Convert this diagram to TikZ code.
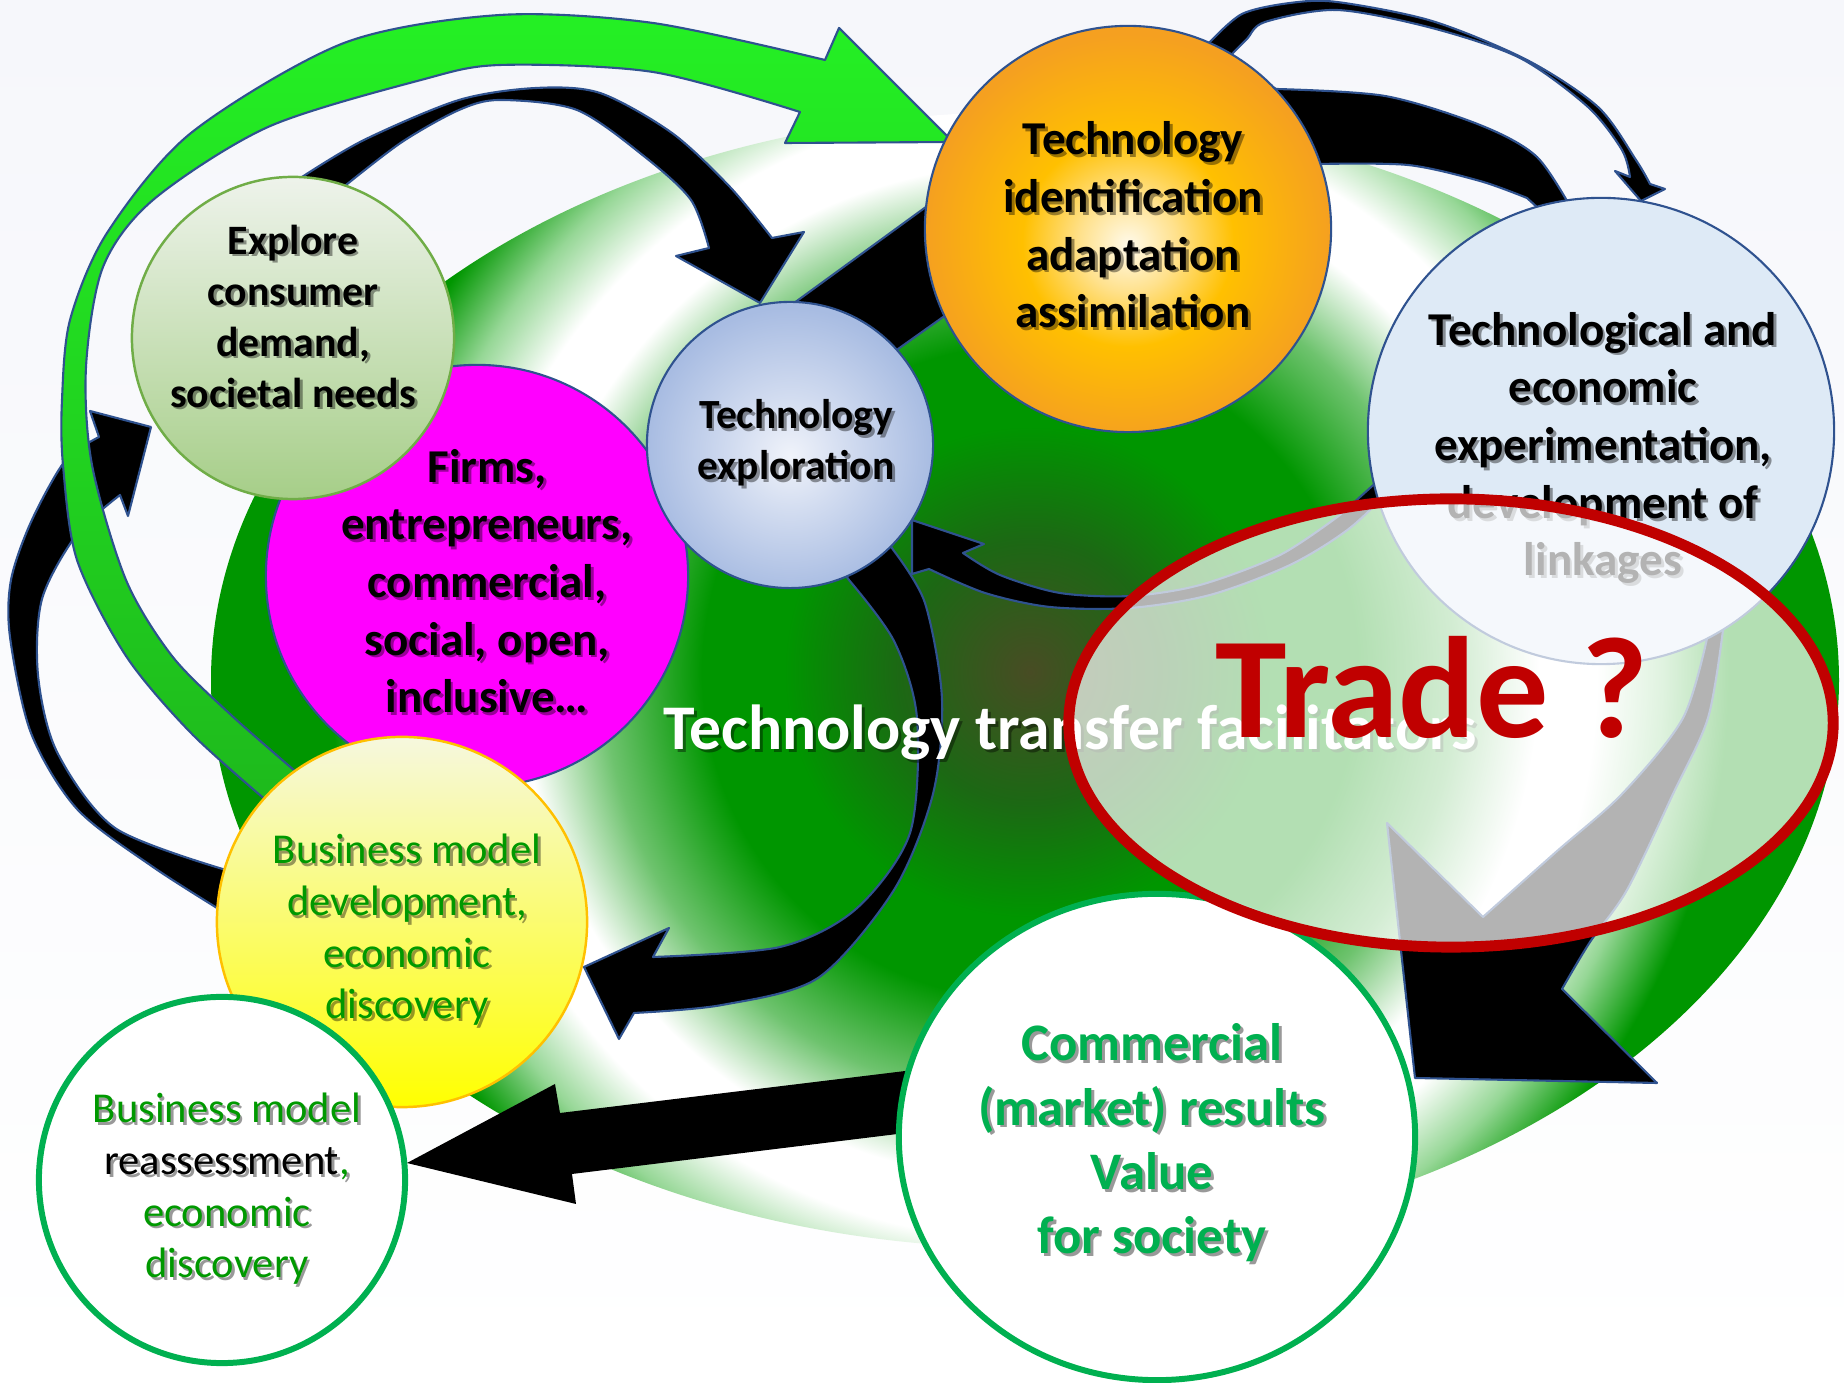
\documentclass[tikz,border=0pt]{standalone}
\usepackage{fontspec}
\setmainfont{Carlito}
\usetikzlibrary{shapes.geometric}
\definecolor{navy}{RGB}{47,82,143}
\definecolor{bgtop}{RGB}{246,247,251}
\definecolor{ec0}{RGB}{72,76,36}
\definecolor{ec1}{RGB}{28,104,20}
\definecolor{ec2}{RGB}{0,150,0}
\definecolor{ec3}{RGB}{110,195,110}
\definecolor{ec4}{RGB}{150,215,150}
\definecolor{exptop}{RGB}{238,243,235}
\definecolor{expbot}{RGB}{166,206,136}
\definecolor{expline}{RGB}{112,173,71}
\definecolor{mag}{RGB}{255,0,255}
\definecolor{tecin}{RGB}{240,243,250}
\definecolor{tecmid}{RGB}{210,220,240}
\definecolor{tecout}{RGB}{168,188,226}
\definecolor{orin}{RGB}{255,250,235}
\definecolor{orin2}{RGB}{255,225,140}
\definecolor{ormid}{RGB}{255,192,0}
\definecolor{orout}{RGB}{245,160,32}
\definecolor{lblue}{RGB}{222,234,246}
\definecolor{yltop}{RGB}{246,248,222}
\definecolor{ylmid}{RGB}{252,252,130}
\definecolor{ylline}{RGB}{255,192,0}
\definecolor{gline}{RGB}{0,176,80}
\definecolor{gtext}{RGB}{0,153,0}
\definecolor{gctext}{RGB}{0,176,80}
\definecolor{garrtop}{RGB}{36,240,36}
\definecolor{garrbot}{RGB}{30,185,28}
\definecolor{tred}{RGB}{192,0,0}
\pgfdeclareradialshading{bigcirc}{\pgfpoint{0bp}{0bp}}{color(0bp)=(ec0); color(4bp)=(ec1); color(7.5bp)=(ec2); color(10bp)=(ec2); color(13bp)=(ec3); color(15.5bp)=(white); color(17.3bp)=(white); color(19.3bp)=(ec4); color(21.3bp)=(ec2); color(50bp)=(ec2)}
\pgfdeclareradialshading{orsh}{\pgfpoint{0bp}{-2bp}}{color(0bp)=(orin); color(6bp)=(orin2); color(13bp)=(ormid); color(25bp)=(orout); color(50bp)=(orout)}
\pgfdeclareradialshading{tesh}{\pgfpoint{0bp}{-2bp}}{color(0bp)=(tecin); color(10bp)=(tecmid); color(25bp)=(tecout); color(50bp)=(tecout)}
\newif\ifshad
\newcommand\tc[2]{\ifshad#2\else\textcolor{#1}{#2}\fi}
\newcommand\lbl[4][]{%
 \global\shadtrue
 \node[lbl,#1,text=black,text opacity=0.4,xshift=0.8pt,yshift=-0.8pt] at (#3) {#4};
 \global\shadfalse
 \node[lbl,#1] (#2) at (#3) {#4};}
\tikzset{
 lbl/.style={align=center, inner sep=0pt},
 circ/.style={circle, inner sep=0pt},
 blkarr/.style={fill=black, draw=navy, line width=0.6pt, line join=round},
 grarr/.style={top color=garrtop, bottom color=garrbot, draw=navy, line width=0.6pt, line join=round},
 fbig/.style={font=\bfseries\fontsize{13.4}{16.4}\selectfont},
 fmid/.style={font=\bfseries\fontsize{11.9}{14.5}\selectfont},
 freg/.style={font=\fontsize{12.1}{14.7}\selectfont},
}
\begin{document}
\begin{tikzpicture}[x=0.01cm,y=-0.01cm]
\useasboundingbox (0,0) rectangle (1844,1383);
\shade[top color=bgtop, bottom color=white] (0,0) rectangle (1844,1383);
% big background ellipse with circular glow
\begin{scope}
\clip (1025,680) ellipse [x radius=814, y radius=568];
\shade[shading=bigcirc] (1030,672) circle (820);
\end{scope}
% left black arrow (to Explore)
\filldraw[blkarr] (245,918) -- plot[smooth] coordinates {(230,916) (153,867) (77,809) (31,733) (10,637) (11,580) (31,522) (65,461) (99,437)} -- (90,411) -- (151,427) -- (128,516) -- plot[smooth] coordinates {(120,495) (77,534) (42,599) (38,675) (57,752) (115,828) (226,870)} -- (245,872) -- cycle;
% black arrow Explore -> exploration
\filldraw[blkarr] (300,190) -- plot[smooth] coordinates {(302,177) (364,140) (459,100) (536,88) (600,93) (672,133) (730,187) (772,238)} -- (804,232) -- (760,303) -- (676,256) -- plot[smooth] coordinates {(709,248) (691,200) (645,157) (577,110) (500,100) (459,110) (402,142) (346,185)} -- (340,195) -- cycle;
% green arrow
\shadedraw[grarr] (280,815) -- plot[smooth] coordinates {(268,802) (191,733) (126,656) (77,560) (63,465) (62,400) (70,320) (107,233) (191,133) (344,43) (500,15) (653,23) (825,60)} -- (839,28) -- (953,142) -- (785,143) -- plot[smooth] coordinates {(800,112) (653,72) (500,65) (421,80) (268,127) (153,200) (103,267) (86,367) (92,465) (126,580) (172,656) (230,714) (295,771)} -- (305,785) -- cycle;
% band exploration -> orange
\filldraw[blkarr] (779,314) -- (941,196) -- (960,305) -- (884,359) -- cycle;
% thick band orange -> technological
\filldraw[blkarr] (1262,80) -- plot[smooth] coordinates {(1276,89) (1385,96) (1480,125) (1537,157) (1575,215)} -- (1560,228) -- plot[smooth] coordinates {(1527,198) (1480,181) (1408,165) (1318,164)} -- (1300,172) -- cycle;
% thin arrow orange -> technological
\filldraw[blkarr] (1212,55) -- plot[smooth] coordinates {(1209,43) (1242,14) (1290,3) (1337,2) (1432,21) (1527,60) (1598,107) (1636,160) (1650,184)} -- (1665,189) -- (1641,201) -- (1615,171) -- plot[smooth] coordinates {(1630,177) (1622,150) (1588,107) (1520,58) (1432,28) (1337,10) (1265,22) (1247,39) (1233,53)} -- (1225,62) -- cycle;
% technological -> exploration
\filldraw[blkarr] (1390,470) -- plot[smooth] coordinates {(1340,515) (1280,555) (1200,585) (1130,596) (1060,593) (1000,575) (963,553)} -- (984,544) -- (912,520) -- (912,574) -- plot[smooth] coordinates {(929,569) (985,593) (1050,607) (1130,608) (1210,595) (1290,565) (1350,528) (1400,480)} -- cycle;
% exploration -> yellow
\filldraw[blkarr] (880,530) -- plot[smooth] coordinates {(894,551) (925,603) (942,699) (933,794) (894,890) (818,978) (722,1005) (634,1013)} -- (619,1039) -- (584,967) -- (669,928) -- plot[smooth] coordinates {(653,957) (780,947) (856,909) (910,833) (917,718) (894,641) (849,580)} -- (835,560) -- cycle;
% commercial -> reassessment
\fill[black] (930,1068) -- (560,1113) -- (555,1084) -- (407,1163) -- (576,1204) -- (572,1174) -- (930,1130) -- cycle;
% technological -> commercial
\filldraw[blkarr] (1730,600) -- plot[smooth] coordinates {(1723,630) (1708,718) (1673,794) (1627,890) (1590,942) (1562,989)} -- (1657,1083) -- (1415,1078) -- (1387,823) -- plot[smooth] coordinates {(1483,917) (1556,852) (1622,794) (1683,718) (1708,634)} -- (1705,600) -- cycle;
% circles
\node[circ, minimum size=4.22cm, fill=mag, draw=navy, line width=0.6pt] (firms) at (477,576) {};
\node[circ, minimum size=3.22cm, top color=exptop, bottom color=expbot, draw=expline, line width=0.7pt] (explore) at (293,338) {};
\node[circ, minimum size=2.86cm, shading=tesh, draw=navy, line width=0.6pt] (explo) at (790,445) {};
\node[circ, minimum size=4.06cm, shading=orsh, draw=navy, line width=0.6pt] (ident) at (1128,229) {};
\node[circ, minimum size=4.66cm, fill=lblue, draw=navy, line width=0.6pt] (experim) at (1601,431) {};
\node[circ, minimum size=3.70cm, top color=yltop, middle color=ylmid, bottom color=yellow, draw=ylline, line width=0.7pt] (bmdev) at (402,922) {};
\node[circ, minimum size=3.66cm, fill=white, draw=gline, line width=1.7pt] (bmre) at (222,1180) {};
\node[ellipse, inner sep=0pt, minimum width=5.16cm, minimum height=4.86cm, fill=white, draw=gline, line width=1.7pt] (comm) at (1157,1137) {};
% labels
\lbl[fmid]{lexplore}{293,316}{Explore\\consumer\\demand,\\societal needs}
\lbl[fbig]{lfirms}{487,581}{Firms,\\entrepreneurs,\\commercial,\\social, open,\\inclusive…}
\lbl[font=\bfseries\fontsize{11.8}{14.4}\selectfont]{lexplo}{796,443}{Technology\\exploration}
\lbl[fbig]{lident}{1133,225}{Technology\\identification\\adaptation\\assimilation}
\lbl[fbig]{lexperim}{1603,448}{Technological and\\economic\\experimentation,\\development of\\linkages}
\lbl[freg, text=gtext]{lbmdev}{407,930}{Business model\\development,\\economic\\discovery}
\lbl[freg]{lbmre}{227,1189}{\tc{gtext}{Business model}\\\tc{black}{reassessment}\tc{gtext}{,}\\\tc{gtext}{economic}\\\tc{gtext}{discovery}}
\lbl[font=\bfseries\fontsize{15}{18.3}\selectfont, text=gctext]{lcomm}{1152,1143}{Commercial\\(market) results\\Value\\for society}
\lbl[font=\bfseries\fontsize{18.1}{21}\selectfont, text=white, anchor=base]{lttf}{1070,750}{Technology transfer facilitators}
% trade ellipse
\node[ellipse, inner sep=0pt, minimum width=7.64cm, minimum height=4.48cm, draw=tred, line width=3.1pt, fill=white, fill opacity=0.7] (trade) at (1451,723) {};
\node[font=\bfseries\fontsize{41}{49}\selectfont, text=tred, anchor=base, inner sep=0pt] (ltrade) at (1432,738) {Trade ?};
\end{tikzpicture}
\end{document}
